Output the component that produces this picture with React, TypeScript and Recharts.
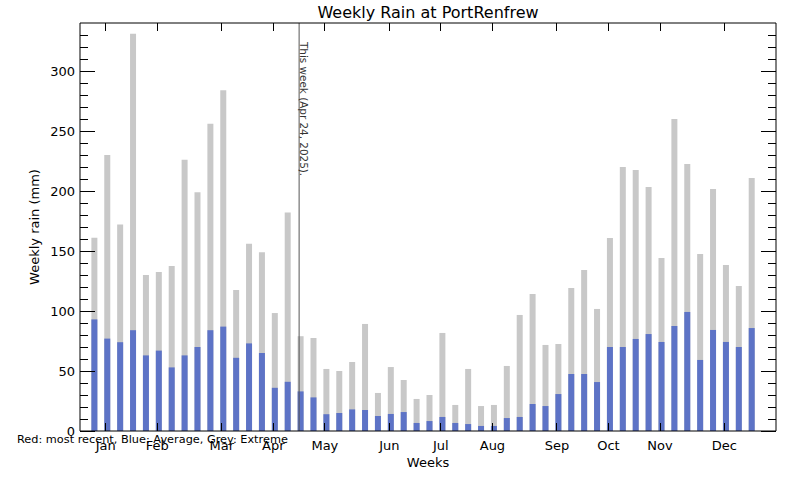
import {
  Bar,
  ComposedChart,
  ReferenceLine,
  XAxis,
  YAxis,
} from 'recharts';

// week numbers (one bar per week)
const weeks = [
  1, 2, 3, 4, 5, 6, 7, 8, 9, 10, 11, 12, 13, 14, 15, 16, 17, 18, 19, 20, 21, 22, 23, 24, 25, 26,
  27, 28, 29, 30, 31, 32, 33, 34, 35, 36, 37, 38, 39, 40, 41, 42, 43, 44, 45, 46, 47, 48, 49, 50, 51, 52,
];

// grey: extreme weekly rain (mm)
const extremeRain = [
  161, 230, 172, 331, 130, 132.5, 137.5, 226, 199, 256, 284, 117.5, 156, 149, 98.3, 182, 79,
  77.5, 51.7, 50, 57.5, 89.2, 31.7, 53.3, 42.5, 26.7, 30, 81.7, 21.7, 51.7, 20.8, 21.7, 54.2,
  96.7, 114.2, 71.7, 72.5, 119.2, 134.2, 101.7, 160.8, 220, 217.5, 203.3, 144.2, 260, 222.5,
  147.5, 201.7, 138.3, 120.8, 210.8,
];

// blue: average weekly rain (mm)
const averageRain = [
  93, 77, 74, 84, 63, 67, 53, 63, 70, 84, 87, 61, 73, 65, 36, 41, 33, 28, 14, 15, 18, 17.5,
  12.5, 14.2, 15.8, 6.7, 8.3, 11.7, 6.7, 5.8, 4.2, 4.2, 10.8, 11.7, 22.5, 20.8, 30.8, 47.5,
  47.5, 40.8, 70, 70, 76.7, 80.8, 74.2, 87.5, 99.2, 59.2, 84.2, 74.2, 70, 85.8,
];

const monthLabels = ['Jan', 'Feb', 'Mar', 'Apr', 'May', 'Jun', 'Jul', 'Aug', 'Sep', 'Oct', 'Nov', 'Dec'];
const monthTicks = [1.85, 5.85, 10.85, 14.85, 18.85, 23.85, 27.85, 31.85, 36.85, 40.85, 44.85, 49.85];
const yTicks = [
  0, 10, 20, 30, 40, 50, 60, 70, 80, 90, 100, 110, 120, 130, 140, 150, 160, 170, 180, 190, 200,
  210, 220, 230, 240, 250, 260, 270, 280, 290, 300, 310, 320, 330,
];
const thisWeek = 16.85;
const thisWeekLabel = 'This week (Apr 24, 2025).';

const rows = weeks.map((week, i) => ({
  week,
  extreme: extremeRain[i],
  average: averageRain[i],
}));

const FONT = '"DejaVu Sans", sans-serif';

const monthName = (v: number) => monthLabels[monthTicks.indexOf(v)] ?? '';

const LeftTick = ({ x, y, payload }: any) => {
  const major = payload.value % 50 === 0;
  return (
    <g>
      <line x1={x} x2={x + (major ? 15 : 8)} y1={y} y2={y} stroke="#000" shapeRendering="crispEdges" />
      {major && (
        <text x={x - 5} y={y + 5} textAnchor="end" fontSize={13} fontFamily={FONT} fill="#000">
          {payload.value}
        </text>
      )}
    </g>
  );
};

const RightTick = ({ x, y, payload }: any) => {
  const major = payload.value % 50 === 0;
  return (
    <line x1={x} x2={x - (major ? 15 : 8)} y1={y} y2={y} stroke="#000" shapeRendering="crispEdges" />
  );
};

const BottomTick = ({ x, y, payload }: any) => (
  <g>
    <line x1={x} x2={x} y1={y} y2={y - 8} stroke="#000" shapeRendering="crispEdges" />
    <text x={x} y={y + 19} textAnchor="middle" fontSize={13} fontFamily={FONT} fill="#000">
      {monthName(payload.value)}
    </text>
  </g>
);

const TopTick = ({ x, y }: any) => (
  <line x1={x} x2={x} y1={y} y2={y + 8} stroke="#000" shapeRendering="crispEdges" />
);

const TitleLabel = ({ viewBox }: any) => {
  const vb = viewBox ?? { x: 80, y: 0, width: 696, height: 23 };
  return (
    <text x={vb.x + vb.width / 2} y={18} textAnchor="middle" fontSize={16} fontFamily={FONT} fill="#000">
      Weekly Rain at PortRenfrew
    </text>
  );
};

const BottomLabel = ({ viewBox }: any) => {
  const vb = viewBox ?? { x: 80, y: 431, width: 696, height: 49 };
  return (
    <g fontFamily={FONT} fill="#000">
      <text x={vb.x + vb.width / 2} y={vb.y + 36} textAnchor="middle" fontSize={13}>
        Weeks
      </text>
      <text x={17} y={vb.y + 12} fontSize={11.3}>
        Red: most recent, Blue: Average, Grey: Extreme
      </text>
    </g>
  );
};

const YLabel = ({ viewBox }: any) => {
  const vb = viewBox ?? { x: 0, y: 23, width: 80, height: 408 };
  const cx = 39;
  const cy = vb.y + vb.height / 2;
  return (
    <text
      x={cx}
      y={cy}
      textAnchor="middle"
      fontSize={13}
      fontFamily={FONT}
      fill="#000"
      transform={`rotate(-90, ${cx}, ${cy})`}
    >
      Weekly rain (mm)
    </text>
  );
};

const ThisWeekLabel = ({ viewBox }: any) => {
  const x = (viewBox?.x ?? viewBox?.x1 ?? 299) + 1;
  const y = (viewBox?.y ?? viewBox?.y1 ?? 23) + 19;
  return (
    <text
      x={x}
      y={y}
      fontSize={10.4}
      fontFamily={FONT}
      fill="#333"
      transform={`rotate(90, ${x}, ${y})`}
    >
      {thisWeekLabel}
    </text>
  );
};

export default function App() {
  return (
    <div style={{ position: 'absolute', left: 0, top: 0, width: 800, height: 480, background: '#fff' }}>
      <ComposedChart
        width={800}
        height={480}
        data={rows}
        margin={{ top: 0, right: 0, bottom: 0, left: 0 }}
      >
        <XAxis
          xAxisId="bottom"
          dataKey="week"
          type="number"
          domain={[-0.15, 53.85]}
          allowDataOverflow
          ticks={monthTicks}
          interval={0}
          orientation="bottom"
          height={49}
          tickSize={0}
          tickMargin={0}
          tick={BottomTick}
          tickLine={false}
          axisLine={{ stroke: '#000' }}
          label={BottomLabel}
        />
        <XAxis
          xAxisId="top"
          dataKey="week"
          type="number"
          domain={[-0.15, 53.85]}
          allowDataOverflow
          ticks={monthTicks}
          interval={0}
          orientation="top"
          height={23}
          tickSize={0}
          tickMargin={0}
          tick={TopTick}
          tickLine={false}
          axisLine={{ stroke: '#000' }}
          label={TitleLabel}
        />
        <YAxis
          yAxisId="left"
          type="number"
          domain={[0, 340]}
          allowDataOverflow
          ticks={yTicks}
          interval={0}
          width={80}
          tickSize={0}
          tickMargin={0}
          tick={LeftTick}
          tickLine={false}
          axisLine={{ stroke: '#000' }}
          label={YLabel}
        />
        <YAxis
          yAxisId="right"
          orientation="right"
          type="number"
          domain={[0, 340]}
          allowDataOverflow
          ticks={yTicks}
          interval={0}
          width={24}
          tickSize={0}
          tickMargin={0}
          tick={RightTick}
          tickLine={false}
          axisLine={{ stroke: '#000' }}
        />
        <Bar
          xAxisId="bottom"
          yAxisId="left"
          dataKey="extreme"
          fill="#c8c8c8"
          barSize={6}
          isAnimationActive={false}
        />
        <Bar
          xAxisId="top"
          yAxisId="left"
          dataKey="average"
          fill="#5d73c6"
          barSize={6}
          isAnimationActive={false}
        />
        <ReferenceLine
          xAxisId="bottom"
          yAxisId="left"
          x={thisWeek}
          stroke="#555"
          label={ThisWeekLabel}
        />
      </ComposedChart>
    </div>
  );
}
